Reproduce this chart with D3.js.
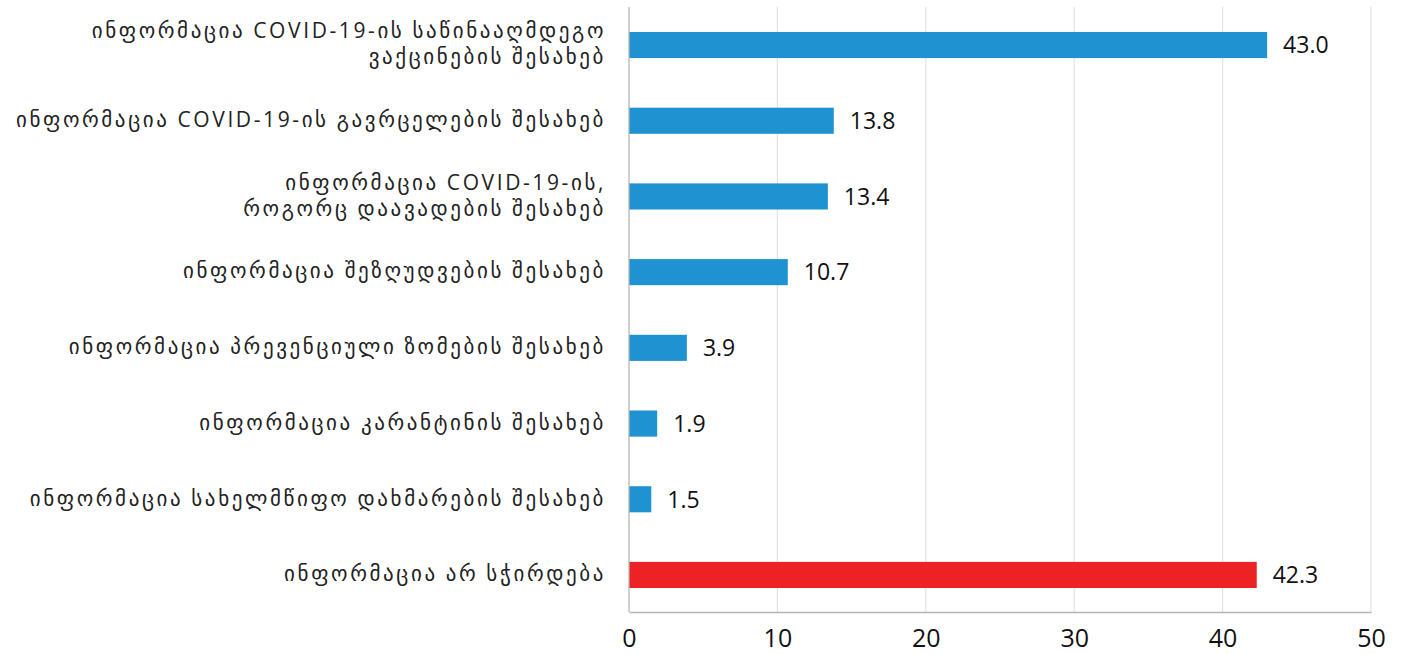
<!DOCTYPE html>
<html><head><meta charset="utf-8">
<script src="https://cdn.jsdelivr.net/npm/d3@7"></script>
<style>
body{margin:0;background:#fff;}
text{font-family:"Open Sans","DejaVu Sans",sans-serif;}
.tick text{font-size:25px;fill:#111;}
</style></head>
<body><svg id="c" width="1406" height="654"></svg>
<script>
const categories = [
  ["ინფორმაცია COVID-19-ის საწინააღმდეგო","ვაქცინების შესახებ"],
  ["ინფორმაცია COVID-19-ის გავრცელების შესახებ"],
  ["ინფორმაცია COVID-19-ის,","როგორც დაავადების შესახებ"],
  ["ინფორმაცია შეზღუდვების შესახებ"],
  ["ინფორმაცია პრევენციული ზომების შესახებ"],
  ["ინფორმაცია კარანტინის შესახებ"],
  ["ინფორმაცია სახელმწიფო დახმარების შესახებ"],
  ["ინფორმაცია არ სჭირდება"]
];
const values = [43.0, 13.8, 13.4, 10.7, 3.9, 1.9, 1.5, 42.3];
const barColors = ["#1f93d1","#1f93d1","#1f93d1","#1f93d1","#1f93d1","#1f93d1","#1f93d1","#ed2224"];
const xTicks = [0,10,20,30,40,50];

const svg = d3.select("#c");
const x = d3.scaleLinear().domain([0,50]).range([629,1371]);
const y = d3.scaleBand().domain(d3.range(categories.length)).range([7,613]).paddingInner(0.655).paddingOuter(0.33);

// gridlines
svg.append("g").selectAll("line").data(xTicks.slice(1)).join("line")
  .attr("x1",d=>x(d)).attr("x2",d=>x(d)).attr("y1",7).attr("y2",612)
  .attr("stroke","#e3e3e3").attr("stroke-width",1.2);

// bars
svg.append("g").selectAll("rect").data(values).join("rect")
  .attr("x",x(0)).attr("y",(d,i)=>y(i)).attr("width",d=>x(d)-x(0)).attr("height",y.bandwidth())
  .attr("fill",(d,i)=>barColors[i]);

// axes
const xAxis = d3.axisBottom(x).tickValues(xTicks).tickSize(0).tickPadding(17);
const gx = svg.append("g").attr("transform","translate(0,612)").call(xAxis);
gx.attr("font-size",null).attr("font-family",null);
gx.select(".domain").attr("stroke","#b5b5b5").attr("stroke-width",1.3);

svg.append("line").attr("x1",x(0)).attr("x2",x(0)).attr("y1",7).attr("y2",612)
  .attr("stroke","#b5b5b5").attr("stroke-width",1.3);

// value labels
svg.append("g").selectAll("text").data(values).join("text")
  .attr("x",d=>x(d)+16).attr("y",(d,i)=>y(i)+y.bandwidth()/2).attr("dy","0.36em")
  .attr("font-size",23).attr("fill","#111").text(d=>d.toFixed(1));

// category labels
const lab = svg.append("g").selectAll("text").data(categories).join("text")
  .attr("text-anchor","end").attr("font-size",21).attr("fill","#222")
  .attr("letter-spacing","2.6px")
  .attr("transform",(d,i)=>`translate(606,${y(i)+y.bandwidth()/2})`);
lab.each(function(d){
  const t = d3.select(this);
  const n = d.length, lh = 26;
  d.forEach((s,k)=>{
    t.append("tspan").attr("x",0).attr("y",(k-(n-1)/2)*lh).attr("dy","0.3em").text(s);
  });
});
</script></body></html>
